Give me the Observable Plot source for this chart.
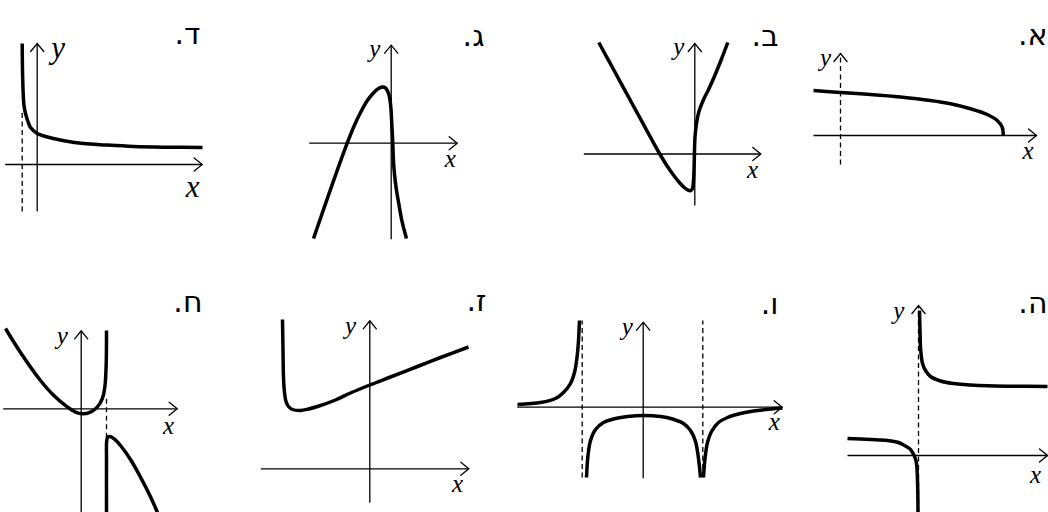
<!DOCTYPE html>
<html><head><meta charset="utf-8">
<script src="https://cdn.jsdelivr.net/npm/d3@7"></script>
<script src="https://cdn.jsdelivr.net/npm/@observablehq/plot@0.6"></script>
<style>
html,body{margin:0;padding:0;background:#fff;}
#chart{position:relative;width:1048px;height:512px;overflow:hidden;background:#fff;}
#chart svg{position:absolute;left:0;top:0;}
</style></head><body><div id="chart"></div>
<script>
// ---- Data (each panel in its own math units, axes cross at origin) ----
const tags = ["א.", "ב.", "ג.", "ד.", "ה.", "ו.", "ז.", "ח."];

const xAxisExtents = [[-2.7,19.6],[-11.1,6.6],[-8.2,6.6],[-3.2,16.5],[-7.1,12.9],[-12.6,13.9],[-10.9,9.9],[-7.8,9.6]];
const yAxisExtents = [[-2.9,8.2],[-5.15,11.05],[-9.6,9.8],[-4.7,12.1],[-5.7,15.0],[-7.1,8.5],[-3.4,14.8],[-10.4,7.8]];

const curveAlef = [[-2.7,4.5],[0,4.3],[3,4.1],[6,3.85],[9,3.5],[11,3.17],[13,2.67],[14.67,2.1],[15.67,1.5],[16.17,0.83],[16.27,0]];

const curveBet = [[-9.6,11.15],[-8.5,9.13],[-7.4,7.12],[-6.3,5.1],[-5.2,3.08],[-4.1,1.07],[-3.5,0],[-2.8,-1.15],[-2.1,-2.15],[-1.5,-2.9],[-1.0,-3.4],[-0.7,-3.6],[-0.45,-3.67],[-0.25,-3.5],[-0.13,-2.7],[-0.06,-0.9],[0.02,1.7],[0.15,2.9],[0.4,4.2],[0.9,5.5],[1.4,6.5],[2.0,7.85],[2.65,9.45],[3.3,11.15]];

const curveGimel = [[-7.77,-9.53],[-7.0,-7.3],[-6.2,-5.0],[-5.3,-2.45],[-4.4,0],[-3.7,1.75],[-3.0,3.2],[-2.4,4.25],[-1.8,5.0],[-1.3,5.45],[-0.9,5.62],[-0.6,5.55],[-0.35,5.2],[-0.15,4.5],[-0.03,3.5],[0.08,1.5],[0.16,0],[0.24,-2.0],[0.34,-3.2],[0.5,-4.5],[0.75,-6.0],[1.1,-7.9],[1.53,-9.53]];

const curveDalet = [[-1.5,12.1],[-1.47,9.4],[-1.4,7.1],[-1.32,5.9],[-1.17,5.1],[-0.92,4.3],[-0.67,3.7],[0,3.1],[0.83,2.8],[1.63,2.6],[2.83,2.35],[4.63,2.1],[6.83,1.95],[9.63,1.8],[12.83,1.73],[16.53,1.7]];
const asymptoteDalet = [{x:-1.5, y1:-4.7, y2:5.4}];

const curveHeUpper = [[0.1,14.5],[0.15,12.5],[0.2,10.8],[0.3,9.8],[0.4,9.2],[0.7,8.5],[1.2,7.9],[2.2,7.45],[3.5,7.2],[5.2,7.05],[6.9,6.97],[9.2,6.93],[12.9,6.9]];
const curveHeLower = [[-7.1,1.7],[-4.8,1.6],[-3.1,1.5],[-2.0,1.3],[-1.5,1.05],[-0.9,0.7],[-0.6,0.3],[-0.35,-0.2],[-0.2,-0.8],[-0.1,-2.5],[-0.05,-5.7]];

const curveVavLeft = [[-12.57,0.27],[-10.27,0.47],[-8.77,0.87],[-7.97,1.47],[-7.27,2.37],[-6.87,3.47],[-6.62,4.97],[-6.47,6.67],[-6.37,8.67]];
const curveVavMid = [[-5.67,-7.03],[-5.52,-4.83],[-5.27,-3.33],[-4.77,-2.23],[-3.97,-1.53],[-2.77,-1.13],[-1.57,-0.93],[0.03,-0.83],[1.73,-0.93],[2.93,-1.18],[4.03,-1.63],[4.73,-2.33],[5.23,-3.43],[5.53,-5.13],[5.73,-7.03]];
const curveVavRight = [[6.03,-7.03],[6.18,-5.13],[6.43,-3.53],[6.83,-2.43],[7.53,-1.53],[8.43,-1.03],[9.73,-0.63],[11.03,-0.38],[12.73,-0.18],[13.93,-0.08]];
const asymptotesVav = [{x:-6.1, y1:-7.03, y2:8.67},{x:5.96, y1:-7.03, y2:8.67}];

const curveZayin = [[-8.73,14.93],[-8.68,11.83],[-8.63,9.13],[-8.53,7.63],[-8.38,6.73],[-8.13,6.23],[-7.73,5.93],[-6.93,5.83],[-6.13,5.98],[-5.23,6.23],[-3.43,6.88],[-1.93,7.58],[0,8.38],[2.07,9.18],[4.77,10.23],[7.07,11.13],[9.87,12.18]];

const curveHetLeft = [[-7.57,8.03],[-6.07,5.63],[-4.07,2.83],[-2.74,1.33],[-1.4,0.2],[-0.57,-0.33],[0.1,-0.5],[0.93,-0.33],[1.6,0.17],[2.1,1.0],[2.36,2.16],[2.5,4.5],[2.53,7.83]];
const curveHetRight = [[2.53,-10.37],[2.53,-5],[2.55,-3.2],[2.65,-2.85],[2.85,-2.78],[3.3,-3.0],[3.93,-3.67],[4.93,-5.07],[5.93,-6.83],[6.93,-8.8],[7.63,-10.37]];
const asymptoteHet = [{x:2.53, y1:-2.9, y2:1.1}];

// ---- Layout (pixels) ----
const W = 1048, H = 512, U = 10;
const panels = [
  {tag:0, ox:840,   oy:135,   curves:[curveAlef], asym:[], yDashed:true,  tagX:1047, tagY:23, fs:25, xl:[-8.5,15.2], yl:[-15,4.5]},
  {tag:1, ox:694.3, oy:153.5, curves:[curveBet], asym:[], yDashed:false, tagX:778, tagY:24, fs:25, xl:[-8.3,15.9], yl:[-16,3.7]},
  {tag:2, ox:390.7, oy:142.7, curves:[curveGimel], asym:[], yDashed:false, tagX:484, tagY:24, fs:25, xl:[-7,15.7], yl:[-16.5,4.2]},
  {tag:3, ox:36.7,  oy:164,   curves:[curveDalet], asym:asymptoteDalet, yDashed:false, tagX:200, tagY:22, fs:31, xl:[-9.5,22.4], yl:[20.8,4.1]},
  {tag:4, ox:918,   oy:455,   curves:[curveHeUpper, curveHeLower], asym:[], yDashed:true, tagX:1047, tagY:291, fs:25, xl:[-12,19.4], yl:[-19.7,5]},
  {tag:5, ox:642.7, oy:406.7, curves:[curveVavLeft, curveVavMid, curveVavRight], asym:asymptotesVav, yDashed:false, tagX:778, tagY:292, fs:25, xl:[-7.8,15.2], yl:[-16,4.7]},
  {tag:6, ox:369.3, oy:468.3, curves:[curveZayin], asym:[], yDashed:false, tagX:486, tagY:289, fs:25, xl:[-11.3,15.2], yl:[-19.3,5]},
  {tag:7, ox:80.7,  oy:408.3, curves:[curveHetLeft, curveHetRight], asym:asymptoteHet, yDashed:false, tagX:202, tagY:290, fs:25, xl:[-8.7,16.9], yl:[-19,5]}
];

const mathFont = "Liberation Serif, DejaVu Serif, serif";
const hebFont = "DejaVu Sans, Liberation Sans, sans-serif";

const chevron = {
  draw(ctx, l) { const w = l * 0.82; ctx.moveTo(-w, l); ctx.lineTo(0, 0); ctx.lineTo(w, l); }
};

const root = document.getElementById("chart");
panels.forEach((p, i) => {
  const xa = xAxisExtents[i], ya = yAxisExtents[i];
  const marks = [
    Plot.link([{x1:xa[0], x2:xa[1]}], {x1:"x1", x2:"x2", y1:0, y2:0, stroke:"#000", strokeWidth:1.3}),
    Plot.link([{y1:ya[0], y2:ya[1]}], {y1:"y1", y2:"y2", x1:0, x2:0, stroke:"#000", strokeWidth:1.3,
      strokeDasharray: p.yDashed ? "5,3.5" : undefined}),
    Plot.vector([{x:xa[1], y:0, r:90}, {x:0, y:ya[1], r:0}], {x:"x", y:"y", rotate:"r", length:8,
      shape:chevron, anchor:"start", stroke:"#000", strokeWidth:1.3, fill:"none", strokeLinejoin:"miter"}),
    Plot.link(p.asym, {x1:"x", x2:"x", y1:"y1", y2:"y2", stroke:"#000", strokeWidth:1.3, strokeDasharray:"5,3.5"}),
    ...p.curves.map(c => Plot.line(c, {x:d => d[0], y:d => d[1], curve:"catmull-rom", stroke:"#000",
      strokeWidth:3.5, strokeLinecap:"butt"})),
    Plot.text(["x"], {x:xa[1], y:0, text:d => d, dx:p.xl[0], dy:p.xl[1], fontSize:p.fs,
      fontFamily:mathFont, fontStyle:"italic", fill:"#000"}),
    Plot.text(["y"], {x:0, y:ya[1], text:d => d, dx:p.yl[0], dy:p.yl[1], fontSize:p.fs,
      fontFamily:mathFont, fontStyle:"italic", fill:"#000"}),
    Plot.text([tags[p.tag] + "\u200F"], {frameAnchor:"top-left", dx:p.tagX, dy:p.tagY, text:d => d,
      textAnchor:"end", fontSize:30, fontFamily:hebFont, fill:"#000"})
  ];
  const chart = Plot.plot({
    width: W, height: H, margin: 0,
    x: {domain: [(0 - p.ox) / U, (W - p.ox) / U], axis: null},
    y: {domain: [(p.oy - H) / U, p.oy / U], axis: null},
    style: {background: "transparent", overflow: "visible"},
    marks
  });
  root.appendChild(chart);
});
</script></body></html>
